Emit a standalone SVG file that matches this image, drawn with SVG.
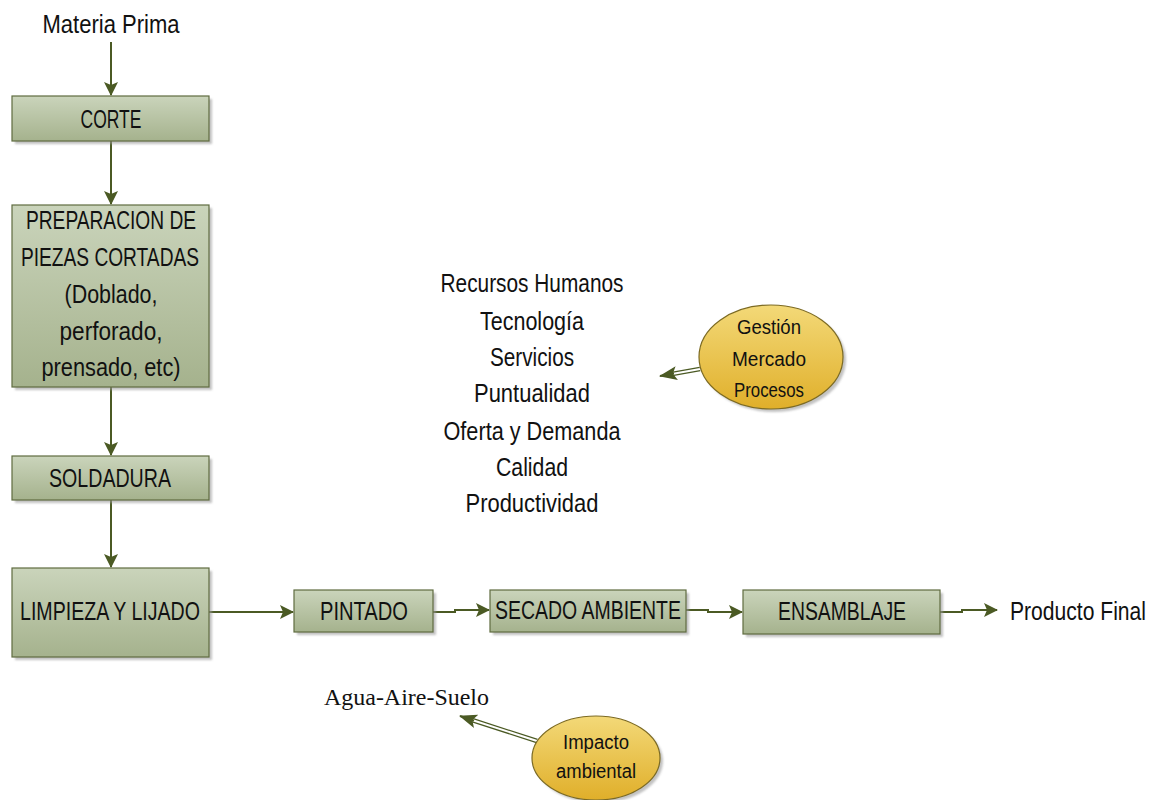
<svg xmlns="http://www.w3.org/2000/svg" width="1156" height="800" viewBox="0 0 1156 800">
  <defs>
    <linearGradient id="boxFill" x1="0" y1="0" x2="0" y2="1">
      <stop offset="0" stop-color="#cad4bb"/>
      <stop offset="1" stop-color="#a5b28d"/>
    </linearGradient>
    <linearGradient id="goldFill" x1="0" y1="0" x2="0" y2="1">
      <stop offset="0" stop-color="#f3d978"/>
      <stop offset="1" stop-color="#e0af2a"/>
    </linearGradient>
    <filter id="soft" x="-10%" y="-10%" width="130%" height="130%">
      <feGaussianBlur stdDeviation="1.2"/>
    </filter>
    <marker id="arrow" viewBox="0 0 14 14" refX="13" refY="7" markerWidth="14" markerHeight="14" markerUnits="userSpaceOnUse" orient="auto">
      <path d="M0,0 L14,7 L0,14 L3,7 Z" fill="#4b5a24"/>
    </marker>
    <marker id="arrowBig" viewBox="0 0 18 14" refX="17" refY="7" markerWidth="18" markerHeight="14" markerUnits="userSpaceOnUse" orient="auto">
      <path d="M0,0 L18,7 L0,14 L4,7 Z" fill="#4b5a24"/>
    </marker>
  </defs>
  <style>
    .box { fill: url(#boxFill); stroke: #5f6c40; stroke-width: 1.2; }
    .shadow { fill: #9a9a9a; opacity: 0.6; filter: url(#soft); }
    .oval { fill: url(#goldFill); stroke: #7c6a22; stroke-width: 1.2; }
    .lbl { font-family: "Liberation Sans", Arial, sans-serif; font-size: 25px; fill: #111; text-anchor: middle; }
    .small { font-family: "Liberation Sans", Arial, sans-serif; font-size: 20px; fill: #111; text-anchor: middle; }
    .serif { font-family: "Liberation Serif", "Times New Roman", serif; font-size: 24px; fill: #111; }
    .conn { fill: none; stroke: #4b5a24; stroke-width: 2; }
    .hollow { fill: none; stroke: #4b5a24; stroke-width: 4.5; }
    .hollowIn { fill: none; stroke: #ffffff; stroke-width: 2; }
  </style>

  <rect width="1156" height="800" fill="#ffffff"/>

  <!-- connectors -->
  <g id="connectors">
    <path class="conn" d="M111,42 V95" marker-end="url(#arrow)"/>
    <path class="conn" d="M111,141 V204" marker-end="url(#arrow)"/>
    <path class="conn" d="M111,387 V455" marker-end="url(#arrow)"/>
    <path class="conn" d="M111,500 V567" marker-end="url(#arrow)"/>
    <path class="conn" d="M209,612 H293" marker-end="url(#arrow)"/>
    <path class="conn" d="M433,612 H455 V610 H489" marker-end="url(#arrow)"/>
    <path class="conn" d="M686,610 H708 V612 H742" marker-end="url(#arrow)"/>
    <path class="conn" d="M940,612 H962 V610 H997" marker-end="url(#arrow)"/>
    <!-- double-line pointers from the ovals -->
    <path class="hollow" d="M700,369 L672,374"/>
    <path class="hollowIn" d="M700,369 L672,374"/>
    <path class="conn" d="M674,373.6 L660,376" marker-end="url(#arrowBig)" stroke-width="1"/>
    <path class="hollow" d="M537,741 L472,720"/>
    <path class="hollowIn" d="M537,741 L472,720"/>
    <path class="conn" d="M474,720.6 L460,716" marker-end="url(#arrowBig)" stroke-width="1"/>
  </g>

  <text class="lbl" x="111" y="33" textLength="137" lengthAdjust="spacingAndGlyphs">Materia Prima</text>

  <g id="corte">
    <rect class="shadow" x="15" y="99" width="197" height="45"/>
    <rect class="box" x="12" y="96" width="197" height="45"/>
    <text class="lbl" x="111" y="128" textLength="61" lengthAdjust="spacingAndGlyphs">CORTE</text>
  </g>

  <g id="preparacion">
    <rect class="shadow" x="15" y="208" width="197" height="182"/>
    <rect class="box" x="12" y="205" width="197" height="182"/>
    <text class="lbl" x="111" y="229" textLength="170" lengthAdjust="spacingAndGlyphs">PREPARACION DE</text>
    <text class="lbl" x="110" y="266" textLength="178" lengthAdjust="spacingAndGlyphs">PIEZAS CORTADAS</text>
    <text class="lbl" x="111" y="303" textLength="93" lengthAdjust="spacingAndGlyphs">(Doblado,</text>
    <text class="lbl" x="111" y="340" textLength="103" lengthAdjust="spacingAndGlyphs">perforado,</text>
    <text class="lbl" x="111" y="376" textLength="139" lengthAdjust="spacingAndGlyphs">prensado, etc)</text>
  </g>

  <g id="soldadura">
    <rect class="shadow" x="15" y="459" width="197" height="44"/>
    <rect class="box" x="12" y="456" width="197" height="44"/>
    <text class="lbl" x="110" y="487" textLength="122" lengthAdjust="spacingAndGlyphs">SOLDADURA</text>
  </g>

  <g id="limpieza">
    <rect class="shadow" x="15" y="571" width="197" height="89"/>
    <rect class="box" x="12" y="568" width="197" height="89"/>
    <text class="lbl" x="110" y="620" textLength="180" lengthAdjust="spacingAndGlyphs">LIMPIEZA Y LIJADO</text>
  </g>

  <g id="pintado">
    <rect class="shadow" x="297" y="593" width="139" height="42"/>
    <rect class="box" x="294" y="590" width="139" height="42"/>
    <text class="lbl" x="364" y="620" textLength="88" lengthAdjust="spacingAndGlyphs">PINTADO</text>
  </g>

  <g id="secado">
    <rect class="shadow" x="493" y="593" width="196" height="42"/>
    <rect class="box" x="490" y="590" width="196" height="42"/>
    <text class="lbl" x="588" y="619" textLength="186" lengthAdjust="spacingAndGlyphs">SECADO AMBIENTE</text>
  </g>

  <g id="ensamblaje">
    <rect class="shadow" x="746" y="593" width="197" height="44"/>
    <rect class="box" x="743" y="590" width="197" height="44"/>
    <text class="lbl" x="842" y="620" textLength="128" lengthAdjust="spacingAndGlyphs">ENSAMBLAJE</text>
  </g>

  <g id="producto-final">
    <text class="lbl" x="1078" y="620" textLength="136" lengthAdjust="spacingAndGlyphs">Producto Final</text>
  </g>

  <g id="factores">
    <text class="lbl" x="532" y="292" textLength="183" lengthAdjust="spacingAndGlyphs">Recursos Humanos</text>
    <text class="lbl" x="532" y="330" textLength="104" lengthAdjust="spacingAndGlyphs">Tecnología</text>
    <text class="lbl" x="532" y="366" textLength="84" lengthAdjust="spacingAndGlyphs">Servicios</text>
    <text class="lbl" x="532" y="402" textLength="116" lengthAdjust="spacingAndGlyphs">Puntualidad</text>
    <text class="lbl" x="532" y="440" textLength="177" lengthAdjust="spacingAndGlyphs">Oferta y Demanda</text>
    <text class="lbl" x="532" y="476" textLength="72" lengthAdjust="spacingAndGlyphs">Calidad</text>
    <text class="lbl" x="532" y="512" textLength="133" lengthAdjust="spacingAndGlyphs">Productividad</text>
  </g>

  <g id="gestion">
    <ellipse class="shadow" cx="774" cy="360" rx="72" ry="52"/>
    <ellipse class="oval" cx="771" cy="357" rx="72" ry="52"/>
    <text class="small" x="769" y="334" textLength="64" lengthAdjust="spacingAndGlyphs">Gestión</text>
    <text class="small" x="769" y="366" textLength="74" lengthAdjust="spacingAndGlyphs">Mercado</text>
    <text class="small" x="769" y="397" textLength="70" lengthAdjust="spacingAndGlyphs">Procesos</text>
  </g>

  <g id="agua-aire-suelo">
    <text class="serif" x="324" y="705" textLength="165" lengthAdjust="spacingAndGlyphs">Agua-Aire-Suelo</text>
  </g>

  <g id="impacto">
    <ellipse class="shadow" cx="599" cy="761" rx="64" ry="42"/>
    <ellipse class="oval" cx="596" cy="758" rx="64" ry="42"/>
    <text class="small" x="596" y="749" textLength="66" lengthAdjust="spacingAndGlyphs">Impacto</text>
    <text class="small" x="596" y="778" textLength="80" lengthAdjust="spacingAndGlyphs">ambiental</text>
  </g>
</svg>
